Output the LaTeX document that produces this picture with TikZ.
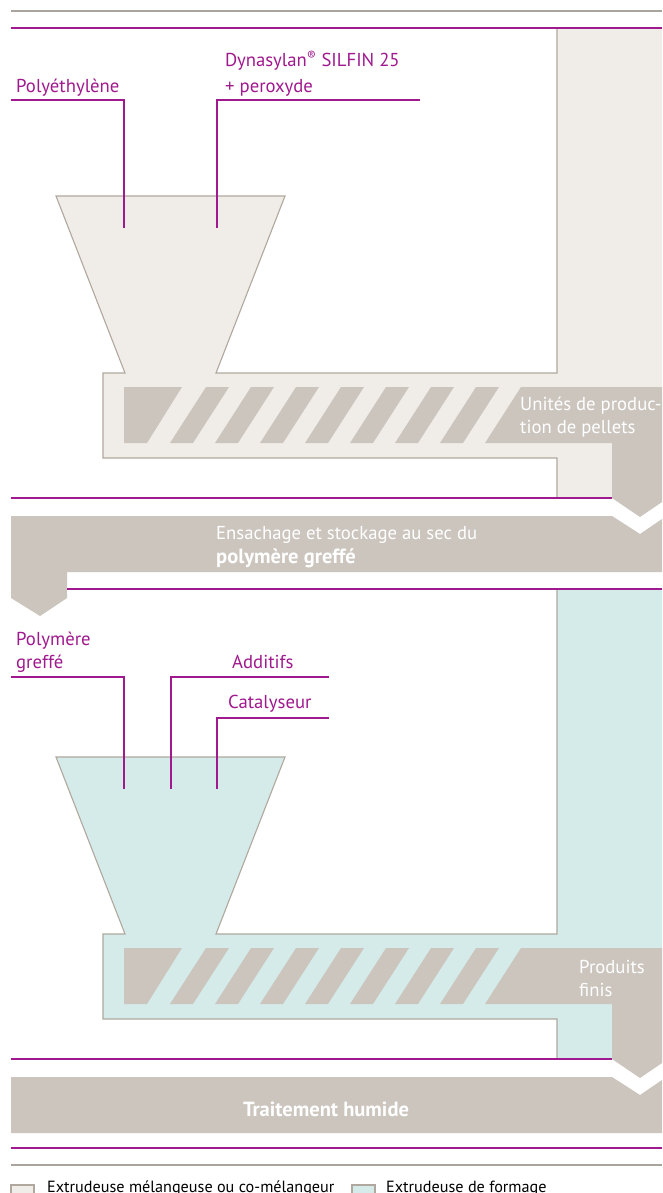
\documentclass[tikz,border=0pt]{standalone}
\usepackage{fontspec}
\setmainfont{PT Sans}
\definecolor{beigec}{HTML}{F0EDE8}
\definecolor{tealc}{HTML}{D5EBE9}
\definecolor{screwc}{HTML}{CBC5BE}
\definecolor{edgec}{HTML}{B0A89E}
\definecolor{magc}{HTML}{A0198E}
\definecolor{rulec}{HTML}{A9A49E}
\tikzset{
  outline/.style={draw=edgec, line width=1.1pt},
  magline/.style={draw=magc, line width=1.6pt},
  greyrule/.style={draw=rulec, line width=1.1pt},
  feed/.style={draw=magc, line width=1.4pt},
  lbl/.style={text=magc, font=\fontsize{18.7}{24}\selectfont, inner sep=0pt, anchor=base west},
  wlbl/.style={text=white, font=\fontsize{18.7}{24}\selectfont, inner sep=0pt, anchor=base west},
  wbold/.style={text=white, font=\fontsize{20.5}{24}\selectfont\bfseries, inner sep=0pt, anchor=base west},
  leg/.style={text=black, font=\fontsize{16.2}{18}\selectfont, inner sep=0pt, anchor=base west},
  extruder/.pic={
    \fill[#1] (56,196) -- (285,196) -- (216,373) -- (557,373) -- (557,28) -- (662,28)
      -- (662,498) -- (557,498) -- (557,458) -- (103,458) -- (103,373) -- (125,373) -- cycle;
    \draw[outline] (557,28) -- (557,373) -- (216,373) -- (285,196) -- (56,196) -- (125,373)
      -- (103,373) -- (103,458) -- (557,458) -- (557,498);
    \fill[screwc] (124,387) -- (182,387) -- (147,443) -- (124,443) -- cycle;
    \foreach \t in {206,251,296,341,386,431,476}
      \fill[screwc] (\t,387) -- (\t+23,387) -- (\t-13,443) -- (\t-36,443) -- cycle;
    \draw[magline] (11,498) -- (612,498);
    \fill[screwc] (521,387) -- (662,387) -- (662,502) -- (640,517) -- (612,498)
      -- (612,443) -- (485,443) -- cycle;
  }
}
\begin{document}
\begin{tikzpicture}[x=1pt,y=-1pt]
\useasboundingbox (0,0) rectangle (662,1193);
\fill[white] (0,0) rectangle (662,1193);

% rules
\draw[greyrule] (11,11) -- (662,11);

% section 1
\pic at (0,0) {extruder=beigec};
\draw[magline] (11,28) -- (662,28);

\node[lbl] (pe) at (16,93) {Polyéthylène};
\node[lbl] (dyn) at (225,67) {Dynasylan\textsuperscript{®} SILFIN 25};
\node[lbl] (perox) at (225,93) {+ peroxyde};
\coordinate (pe-in) at (124,228);
\coordinate (dyn-in) at (217,228);
\draw[feed] (11,100) -| (pe-in);
\draw[feed] (420,100) -| (dyn-in);

\node[wlbl] (unit1) at (520,410) {Unités de produc-};
\node[wlbl] (unit2) at (520,433) {tion de pellets};

% band 1
\fill[screwc] (11,516) -- (612,516) -- (640,534) -- (662,519) -- (662,572) -- (67,572)
  -- (67,598) -- (40,616) -- (11,598) -- cycle;
\node[wlbl] (bag1) at (216,539) {Ensachage et stockage au sec du};
\node[wbold] (bag2) at (216,563) {polymère greffé};

% section 2
\pic at (0,561) {extruder=tealc};
\draw[magline] (67,589) -- (662,589);

\node[lbl] (pg1) at (16,645) {Polymère};
\node[lbl] (pg2) at (16,668) {greffé};
\node[lbl] (add) at (232,668) {Additifs};
\node[lbl] (cat) at (228,708) {Catalyseur};
\coordinate (pg-in) at (124,789);
\coordinate (add-in) at (171,789);
\coordinate (cat-in) at (217,789);
\draw[feed] (11,677) -| (pg-in);
\draw[feed] (329,677) -| (add-in);
\draw[feed] (329,718) -| (cat-in);

\node[wlbl] (prod1) at (579,973) {Produits};
\node[wlbl] (prod2) at (579,996) {finis};

% band 2
\fill[screwc] (11,1077) -- (612,1077) -- (640,1095) -- (662,1080) -- (662,1133) -- (11,1133) -- cycle;
\node[wbold, anchor=base] (wet) at (326,1116) {Traitement humide};

\draw[magline] (11,1148) -- (662,1148);
\draw[greyrule] (11,1165) -- (662,1165);

% legend
\draw[outline, fill=beigec] (11,1185) rectangle (34,1196);
\node[leg] (leg1) at (47,1192) {Extrudeuse mélangeuse ou co-mélangeur};
\draw[outline, fill=tealc] (352,1185) rectangle (375,1196);
\node[leg] (leg2) at (386,1192) {Extrudeuse de formage};
\end{tikzpicture}
\end{document}
